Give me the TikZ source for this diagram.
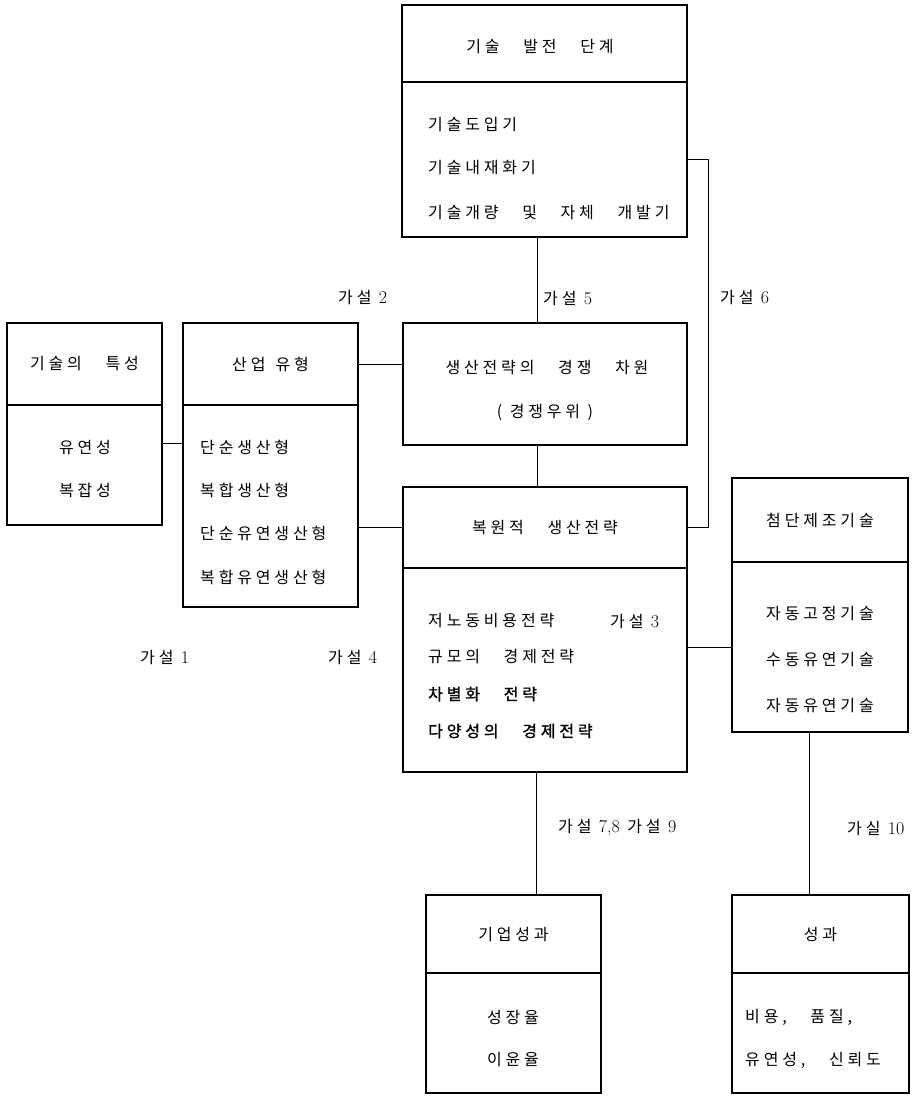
\documentclass[tikz,border=0pt]{standalone}
\usepackage{fontspec}
\newfontfamily\kr{Noto Sans CJK KR}[LetterSpace=24]
\newfontfamily\krb{Noto Sans CJK KR}[LetterSpace=24,FakeBold=1.2]
\newcommand\numlm[1]{{\rmfamily\fontsize{18}{18}\selectfont #1}}
\begin{document}
\begin{tikzpicture}[x=1pt,y=-1pt,
  bx/.style={draw, line width=1.1pt, inner sep=0pt},
  cn/.style={line width=0.9pt},
  tx/.style={inner sep=0pt, font=\kr\fontsize{16}{19}\selectfont},
  tl/.style={tx, anchor=west},
  tc/.style={tx, anchor=center}]
\useasboundingbox[fill=white] (0,0) rectangle (917,1096);

% top box
\node[bx,minimum width=285pt,minimum height=77pt] (tbh) at (544.5,43.5) {};
\node[tc] (tbt) at (540,47) {기술　발전　단계};
\node[bx,minimum width=285pt,minimum height=155pt] (tbb) at (544.5,159.5) {};
\node[tl] (tb1) at (428,125) {기술도입기};
\node[tl] (tb2) at (428,168) {기술내재화기};
\node[tl] (tb3) at (428,213) {기술개량　및　자체　개발기};

% 기술의 특성
\node[bx,tx,minimum width=155pt,minimum height=82pt] (tch) at (84.5,364) {기술의　특성};
\node[bx,minimum width=155pt,minimum height=120pt] (tcb) at (84.5,465) {};
\node[tc] (tc1) at (85,447) {유연성};
\node[tc] (tc2) at (85,490) {복잡성};

% 산업 유형
\node[bx,tx,minimum width=175pt,minimum height=82pt] (iuh) at (270.5,364) {산업\hspace{10pt}유형};
\node[bx,minimum width=175pt,minimum height=202pt] (iub) at (270.5,506) {};
\node[tl] (iu1) at (200,447) {단순생산형};
\node[tl] (iu2) at (200,490) {복합생산형};
\node[tl] (iu3) at (200,533) {단순유연생산형};
\node[tl] (iu4) at (200,577) {복합유연생산형};

% 생산전략의 경쟁 차원
\node[bx,minimum width=284pt,minimum height=122pt] (cs) at (545,384) {};
\node[tc] (cs1) at (547,368) {생산전략의　경쟁　차원};
\node[tc] (cs2) at (545,412) {( 경쟁우위 )};

% 복원적 생산전략
\node[bx,tx,minimum width=284pt,minimum height=81pt] (dh) at (545,527.5) {복원적　생산전략};
\node[bx,minimum width=284pt,minimum height=204pt] (db) at (545,670) {};
\node[tl] (db1) at (428,621) {저노동비용전략};
\node[tl] (db2) at (428,657) {규모의　경제전략};
\node[tl,font=\krb\fontsize{16}{19}\selectfont] (db3) at (428,694) {차별화　전략};
\node[tl,font=\krb\fontsize{16}{19}\selectfont] (db4) at (428,731) {다양성의　경제전략};
\node[tl] (h3) at (610,621) {가설 \numlm{3}};

% 첨단제조기술
\node[bx,tx,minimum width=176pt,minimum height=84pt] (ah) at (820,520) {첨단제조기술};
\node[bx,minimum width=176pt,minimum height=170pt] (ab) at (820,647) {};
\node[tc] (ab1) at (820,613) {자동고정기술};
\node[tc] (ab2) at (820,659) {수동유연기술};
\node[tc] (ab3) at (820,705) {자동유연기술};

% 기업성과
\node[bx,tx,minimum width=175pt,minimum height=78pt] (gh) at (513.5,934) {기업성과};
\node[bx,minimum width=175pt,minimum height=120pt] (gb) at (513.5,1033) {};
\node[tc] (gb1) at (513,1017) {성장율};
\node[tc] (gb2) at (513,1060) {이윤율};

% 성과
\node[bx,tx,minimum width=177pt,minimum height=78pt] (ph) at (820.5,934) {성과};
\node[bx,minimum width=177pt,minimum height=120pt] (pb) at (820.5,1033) {};
\node[tl] (pb1) at (745,1017) {비용,　품질,};
\node[tl] (pb2) at (745,1060) {유연성,　신뢰도};

% hypothesis labels
\node[tl] (h2) at (338,297) {가설 \numlm{2}};
\node[tl] (h5) at (543,298) {가설 \numlm{5}};
\node[tl] (h6) at (720,297) {가설 \numlm{6}};
\node[tl] (h1) at (140,657) {가설 \numlm{1}};
\node[tl] (h4) at (328,657) {가설 \numlm{4}};
\node[tl] (h789) at (558,828) {가설 \numlm{7,8} 가설 \numlm{9}};
\node[tl] (h10) at (847,828) {가실 \numlm{10}};

% connectors
\draw[cn] ([xshift=-7.5pt]tbb.south) -- ([xshift=-7.5pt]tbb.south |- cs.north);
\draw[cn] (tbb.east) -- ++(21,0) |- (dh.east);
\draw[cn] ([yshift=22pt]tcb.east) -- ([yshift=22pt]tcb.east -| iub.west);
\draw[cn] (iuh.east) -- (iuh.east -| cs.west);
\draw[cn] (dh.west -| iub.east) -- (dh.west);
\draw[cn] ([xshift=-8pt]cs.south) -- ([xshift=-8pt]cs.south |- dh.north);
\draw[cn] (ab.west) -- (ab.west -| db.east);
\draw[cn] ([xshift=-9pt]db.south) -- ([xshift=-9pt]db.south |- gh.north);
\draw[cn] ([xshift=-11pt]ab.south) -- ([xshift=-11pt]ab.south |- ph.north);
\end{tikzpicture}
\end{document}
